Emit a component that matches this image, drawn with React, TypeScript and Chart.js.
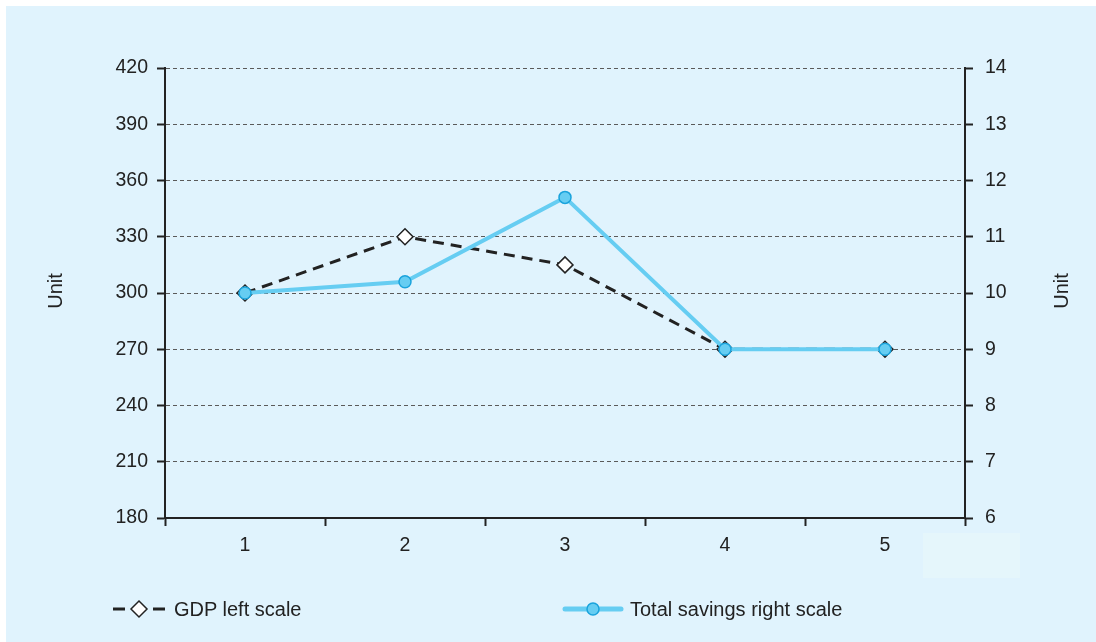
import React, { useEffect, useRef } from "react";
import { Chart, registerables } from "chart.js";

Chart.register(...registerables);

// Chart data
const categories = ["1", "2", "3", "4", "5"];
const gdpValues = [300, 330, 315, 270, 270];
const savingsValues = [10, 10.2, 11.7, 9, 9];

// Axis ranges: [min, max, step]
const leftAxis = [180, 420, 30];
const rightAxis = [6, 14, 1];

const gdpLabel = "GDP left scale";
const savingsLabel = "Total savings right scale";
const axisTitle = "Unit";

const INK = "#222222";
const BLUE = "#66cdf2";
const BLUE_EDGE = "#1aa3dc";
const FONT = "'Liberation Sans', Arial, Helvetica, sans-serif";

export default function App() {
  const canvasRef = useRef<HTMLCanvasElement | null>(null);

  useEffect(() => {
    const canvas = canvasRef.current;
    if (!canvas) return;
    const tickFont = { family: FONT, size: 19.5 };

    const chart = new Chart(canvas, {
      type: "line",
      data: {
        labels: categories,
        datasets: [
          {
            label: savingsLabel,
            data: savingsValues,
            yAxisID: "yRight",
            order: 0,
            borderColor: BLUE,
            borderWidth: 4,
            pointStyle: "circle",
            pointRadius: 6,
            pointBackgroundColor: BLUE,
            pointBorderColor: BLUE_EDGE,
            pointBorderWidth: 1.5,
            tension: 0,
          },
          {
            label: gdpLabel,
            data: gdpValues,
            yAxisID: "yLeft",
            order: 1,
            borderColor: INK,
            borderWidth: 3,
            borderDash: [11, 7],
            pointStyle: "rectRot",
            pointRadius: 8,
            pointBackgroundColor: "#ffffff",
            pointBorderColor: INK,
            pointBorderWidth: 1.5,
            tension: 0,
          },
        ],
      },
      options: {
        responsive: false,
        animation: false,
        layout: { padding: { top: 68, left: 0, right: 0, bottom: 64 } },
        plugins: {
          legend: { display: false },
          tooltip: { enabled: false },
        },
        scales: {
          x: {
            type: "category",
            offset: true,
            afterFit: (s: any) => {
              s.height = 60;
            },
            grid: {
              display: true,
              offset: true,
              drawOnChartArea: false,
              drawTicks: true,
              tickLength: 8,
              tickWidth: 2,
              tickColor: INK,
            },
            border: { display: true, color: INK, width: 2 },
            ticks: { color: INK, font: tickFont, padding: 8 },
          },
          yLeft: {
            type: "linear",
            position: "left",
            min: leftAxis[0],
            max: leftAxis[1],
            afterFit: (s: any) => {
              s.width = 165;
            },
            ticks: { stepSize: leftAxis[2], color: INK, font: tickFont, padding: 9 },
            grid: {
              color: "#5a5a5a",
              lineWidth: 1,
              drawTicks: true,
              tickLength: 8,
              tickWidth: 2,
              tickColor: INK,
            },
            border: { display: true, color: INK, width: 2, dash: [4, 3] },
          },
          yRight: {
            type: "linear",
            position: "right",
            min: rightAxis[0],
            max: rightAxis[1],
            afterFit: (s: any) => {
              s.width = 131;
            },
            ticks: { stepSize: rightAxis[2], color: INK, font: tickFont, padding: 12 },
            grid: {
              drawOnChartArea: false,
              drawTicks: true,
              tickLength: 8,
              tickWidth: 2,
              tickColor: INK,
            },
            border: { display: true, color: INK, width: 2 },
          },
        },
      },
    } as any);

    return () => chart.destroy();
  }, []);

  const textStyle: React.CSSProperties = {
    position: "absolute",
    fontFamily: FONT,
    fontSize: 20,
    color: INK,
    lineHeight: "24px",
    whiteSpace: "nowrap",
  };
  const unitStyle: React.CSSProperties = {
    position: "absolute",
    fontFamily: FONT,
    fontSize: 20,
    color: INK,
    lineHeight: "22px",
    width: 60,
    textAlign: "center",
    transform: "rotate(-90deg)",
  };

  return (
    <div
      style={{
        position: "fixed",
        left: 0,
        top: 0,
        width: 1096,
        height: 642,
        background: "#ffffff",
        overflow: "hidden",
      }}
    >
      <div
        style={{
          position: "absolute",
          left: 6,
          top: 6,
          width: 1090,
          height: 636,
          background: "#e0f3fd",
        }}
      />
      <div
        style={{
          position: "absolute",
          left: 923,
          top: 533,
          width: 97,
          height: 45,
          background: "#e5f6fb",
        }}
      />
      <canvas
        ref={canvasRef}
        width={1096}
        height={642}
        style={{ position: "absolute", left: 0, top: 0, width: 1096, height: 642 }}
      />
      <div style={{ ...unitStyle, left: 55 - 30, top: 291 - 11 }}>{axisTitle}</div>
      <div style={{ ...unitStyle, left: 1061 - 30, top: 291 - 11 }}>{axisTitle}</div>

      <svg
        width={1096}
        height={642}
        style={{ position: "absolute", left: 0, top: 0, pointerEvents: "none" }}
      >
        <line x1={113} y1={609} x2={125} y2={609} stroke={INK} strokeWidth={3} />
        <line x1={153} y1={609} x2={165} y2={609} stroke={INK} strokeWidth={3} />
        <polygon
          points="139,601 147,609 139,617 131,609"
          fill="#ffffff"
          stroke={INK}
          strokeWidth={1.5}
        />
        <line x1={565} y1={609} x2={621} y2={609} stroke={BLUE} strokeWidth={5} strokeLinecap="round" />
        <circle cx={593} cy={609} r={6} fill={BLUE} stroke={BLUE_EDGE} strokeWidth={1.5} />
      </svg>
      <div style={{ ...textStyle, left: 174, top: 597 }}>{gdpLabel}</div>
      <div style={{ ...textStyle, left: 630, top: 597 }}>{savingsLabel}</div>
    </div>
  );
}
